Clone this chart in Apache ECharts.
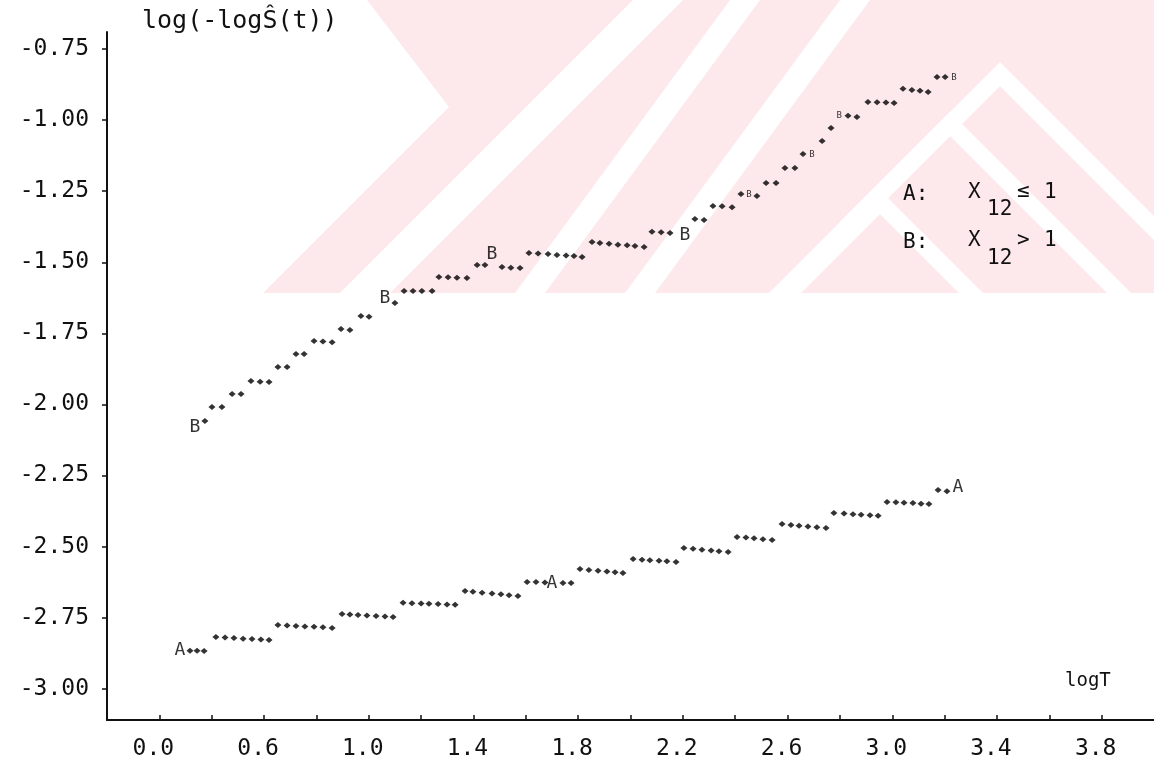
<!DOCTYPE html>
<html>
<head>
<meta charset="utf-8">
<script src="https://cdn.jsdelivr.net/npm/echarts@6/dist/echarts.min.js"></script>
<style>
html,body{margin:0;padding:0;background:#fff;}
#chart{width:1154px;height:774px;}
</style>
</head>
<body>
<div id="chart"></div>
<script>
// ---- tick labels ----
const xTickPos  = [0.2, 0.6, 1.0, 1.4, 1.8, 2.2, 2.6, 3.0, 3.4, 3.8];
const xTickText = ['0.0','0.6','1.0','1.4','1.8','2.2','2.6','3.0','3.4','3.8'];
const xMinorTicks = [0.2,0.4,0.6,0.8,1.0,1.2,1.4,1.6,1.8,2.0,2.2,2.4,2.6,2.8,3.0,3.2,3.4,3.6,3.8];
const yTickPos  = [-0.75,-1.0,-1.25,-1.5,-1.75,-2.0,-2.25,-2.5,-2.75,-3.0];
const yTickText = ['-0.75','-1.00','-1.25','-1.50','-1.75','-2.00','-2.25','-2.50','-2.75','-3.00'];

// ---- series A (X12 <= 1): plotted points ----
const seriesA_x = [
  0.317,0.344,0.371,
  0.416,0.451,0.485,0.520,0.554,0.588,0.619,
  0.653,0.688,0.722,0.756,0.791,0.825,0.860,
  0.898,0.928,0.959,0.993,1.028,1.062,1.093,
  1.131,1.165,1.200,1.230,1.265,1.299,1.330,
  1.368,1.398,1.433,1.471,1.505,1.536,1.570,
  1.605,1.639,1.673,1.742,1.773,
  1.807,1.841,1.876,1.910,1.941,1.971,
  2.010,2.044,2.074,2.109,2.139,2.174,
  2.204,2.239,2.273,2.308,2.338,2.373,
  2.407,2.441,2.472,2.506,2.541,
  2.579,2.613,2.644,2.678,2.712,2.747,
  2.777,2.816,2.850,2.881,2.915,2.946,
  2.980,3.014,3.045,3.079,3.110,3.140,
  3.175,3.209
];
const seriesA_y = [
  -2.866,-2.866,-2.867,
  -2.818,-2.820,-2.822,-2.824,-2.825,-2.827,-2.829,
  -2.776,-2.778,-2.779,-2.781,-2.782,-2.784,-2.786,
  -2.737,-2.739,-2.741,-2.742,-2.744,-2.746,-2.748,
  -2.698,-2.699,-2.700,-2.701,-2.702,-2.704,-2.705,
  -2.656,-2.659,-2.662,-2.665,-2.668,-2.671,-2.674,
  -2.625,-2.625,-2.626,-2.628,-2.628,
  -2.579,-2.582,-2.585,-2.588,-2.590,-2.593,
  -2.544,-2.546,-2.548,-2.550,-2.552,-2.554,
  -2.505,-2.508,-2.511,-2.514,-2.516,-2.519,
  -2.466,-2.468,-2.471,-2.474,-2.477,
  -2.421,-2.424,-2.427,-2.429,-2.432,-2.435,
  -2.382,-2.384,-2.386,-2.388,-2.390,-2.392,
  -2.343,-2.344,-2.346,-2.347,-2.349,-2.350,
  -2.301,-2.305
];
// letter markers of series A
const labelsA_x = [0.279, 1.700, 3.251];
const labelsA_y = [-2.864, -2.628, -2.290];

// ---- series B (X12 > 1): plotted points ----
const seriesB_x = [
  0.374,
  0.401,0.439,
  0.478,0.512,
  0.550,0.585,0.619,
  0.653,0.688,
  0.722,0.753,
  0.791,0.825,0.860,
  0.894,0.928,
  0.970,1.001,
  1.100,
  1.135,1.169,1.203,1.242,
  1.268,1.303,1.337,1.375,
  1.414,1.444,
  1.509,1.543,1.578,
  1.612,1.647,1.685,1.719,1.754,1.784,1.815,
  1.853,1.883,1.918,1.952,1.987,2.017,2.052,
  2.082,2.117,2.151,
  2.246,2.281,
  2.315,2.350,2.388,
  2.422,2.483,
  2.518,2.556,
  2.590,2.628,
  2.659,
  2.732,
  2.766,
  2.831,2.865,
  2.907,2.942,2.976,3.007,
  3.041,3.075,3.106,3.137,
  3.171,3.202
];
const seriesB_y = [
  -2.058,
  -2.009,-2.009,
  -1.963,-1.963,
  -1.918,-1.920,-1.921,
  -1.868,-1.868,
  -1.823,-1.823,
  -1.777,-1.779,-1.781,
  -1.735,-1.738,
  -1.689,-1.692,
  -1.643,
  -1.601,-1.601,-1.601,-1.601,
  -1.552,-1.553,-1.554,-1.555,
  -1.510,-1.510,
  -1.517,-1.519,-1.520,
  -1.467,-1.469,-1.471,-1.474,-1.476,-1.478,-1.481,
  -1.429,-1.432,-1.435,-1.438,-1.440,-1.443,-1.446,
  -1.393,-1.394,-1.397,
  -1.348,-1.351,
  -1.302,-1.303,-1.306,
  -1.260,-1.267,
  -1.221,-1.221,
  -1.168,-1.168,
  -1.119,
  -1.073,
  -1.028,
  -0.985,-0.989,
  -0.936,-0.937,-0.938,-0.940,
  -0.890,-0.894,-0.897,-0.901,
  -0.848,-0.848
];
// letter markers of series B (large and small print)
const labelsB_x = [0.336, 1.062, 1.471, 2.208];
const labelsB_y = [-2.079, -1.626, -1.471, -1.404];
const smallB_x = [2.453, 2.693, 2.797, 3.236];
const smallB_y = [-1.263, -1.123, -0.985, -0.852];

const FONT = 'DejaVu Sans Mono';
const INK = '#111111';
const PINK = '#fde8ec';

function zip(xs, ys) { return xs.map((x, i) => [x, ys[i]]); }
function pick(pos, txt) {
  return function (v) {
    const i = pos.findIndex(p => Math.abs(p - v) < 1e-6);
    return i >= 0 ? txt[i] : '';
  };
}

const chart = echarts.init(document.getElementById('chart'));

const letterSeries = (name, xs, ys, letter, size) => ({
  name: name,
  type: 'scatter',
  data: zip(xs, ys),
  symbol: 'circle',
  symbolSize: 1,
  itemStyle: { color: 'rgba(0,0,0,0)' },
  z: 4,
  label: {
    show: true, position: 'inside', formatter: letter,
    fontFamily: FONT, fontSize: size, color: '#000'
  }
});

function band(x0top, x1top, x0bot, x1bot) {
  return { type: 'polygon', z: -9, silent: true,
    shape: { points: [[x0top,0],[x1top,0],[x1bot,293],[x0bot,293]] },
    style: { fill: '#fff' } };
}
function chevron(ax, ay, th, reach) {
  return { type: 'polygon', z: -8, silent: true,
    shape: { points: [[ax, ay], [ax + reach, ay + reach], [ax + reach, ay + reach + th],
                      [ax, ay + th], [ax - reach, ay + reach + th], [ax - reach, ay + reach]] },
    style: { fill: '#fff' } };
}

const option = {
  backgroundColor: '#fff',
  animation: false,
  grid: { left: 107, right: 0, top: 32, bottom: 54 },
  xAxis: {
    type: 'value', min: 0, max: 4.0,
    axisLine: { show: true, onZero: false, lineStyle: { color: INK, width: 2 } },
    axisTick: { show: true, inside: true, length: 5, customValues: xMinorTicks,
                lineStyle: { color: INK, width: 1.5 } },
    axisLabel: { customValues: xTickPos, formatter: pick(xTickPos, xTickText),
                 margin: 18, padding: [0, 12, 0, 0],
                 fontFamily: FONT, fontSize: 23, color: INK },
    splitLine: { show: false }
  },
  yAxis: {
    type: 'value', min: -3.11, max: -0.69,
    axisLine: { show: true, onZero: false, lineStyle: { color: INK, width: 2 } },
    axisTick: { show: true, length: 5, customValues: yTickPos,
                lineStyle: { color: INK, width: 1.5 } },
    axisLabel: { customValues: yTickPos, formatter: pick(yTickPos, yTickText),
                 margin: 18, fontFamily: FONT, fontSize: 23, color: INK },
    splitLine: { show: false }
  },
  graphic: [
    // background watermark
    { type: 'polygon', z: -10, silent: true,
      shape: { points: [[367,0],[1154,0],[1154,293],[263,293],[449,107]] },
      style: { fill: PINK } },
    band(633, 683, 340, 390),
    band(730, 760, 515, 545),
    band(840, 870, 625, 655),
    chevron(1000, 62, 24, 160),
    chevron(950, 112, 24, 190),
    chevron(880, 190, 24, 110),
    // axis titles
    { type: 'text', left: 142, top: 9, z: 10, silent: true,
      style: { text: 'log(-logŜ(t))', fontFamily: FONT, fontSize: 25, fill: INK } },
    { type: 'text', left: 1065, top: 672, z: 10, silent: true,
      style: { text: 'logT', fontFamily: FONT, fontSize: 19, fill: INK } },
    // legend text
    { type: 'text', left: 903, top: 184, z: 10, silent: true,
      style: { text: 'A:', fontFamily: FONT, fontSize: 21, fill: INK } },
    { type: 'text', left: 968, top: 182, z: 10, silent: true,
      style: { text: 'X', fontFamily: FONT, fontSize: 21, fill: INK } },
    { type: 'text', left: 987, top: 199, z: 10, silent: true,
      style: { text: '12', fontFamily: FONT, fontSize: 21, fill: INK } },
    { type: 'text', left: 1017, top: 181, z: 10, silent: true,
      style: { text: '≤', fontFamily: FONT, fontSize: 21, fill: INK } },
    { type: 'text', left: 1044, top: 182, z: 10, silent: true,
      style: { text: '1', fontFamily: FONT, fontSize: 21, fill: INK } },
    { type: 'text', left: 903, top: 232, z: 10, silent: true,
      style: { text: 'B:', fontFamily: FONT, fontSize: 21, fill: INK } },
    { type: 'text', left: 968, top: 230, z: 10, silent: true,
      style: { text: 'X', fontFamily: FONT, fontSize: 21, fill: INK } },
    { type: 'text', left: 987, top: 248, z: 10, silent: true,
      style: { text: '12', fontFamily: FONT, fontSize: 21, fill: INK } },
    { type: 'text', left: 1017, top: 230, z: 10, silent: true,
      style: { text: '>', fontFamily: FONT, fontSize: 21, fill: INK } },
    { type: 'text', left: 1044, top: 230, z: 10, silent: true,
      style: { text: '1', fontFamily: FONT, fontSize: 21, fill: INK } }
  ],
  series: [
    { name: 'A', type: 'scatter', data: zip(seriesA_x, seriesA_y),
      symbol: 'diamond', symbolSize: [7, 6], itemStyle: { color: '#000' }, z: 3 },
    { name: 'B', type: 'scatter', data: zip(seriesB_x, seriesB_y),
      symbol: 'diamond', symbolSize: [7, 6], itemStyle: { color: '#000' }, z: 3 },
    letterSeries('A marks', labelsA_x, labelsA_y, 'A', 18),
    letterSeries('B marks', labelsB_x, labelsB_y, 'B', 18),
    letterSeries('B small marks', smallB_x, smallB_y, 'B', 9)
  ]
};
chart.setOption(option);
</script>
</body>
</html>
